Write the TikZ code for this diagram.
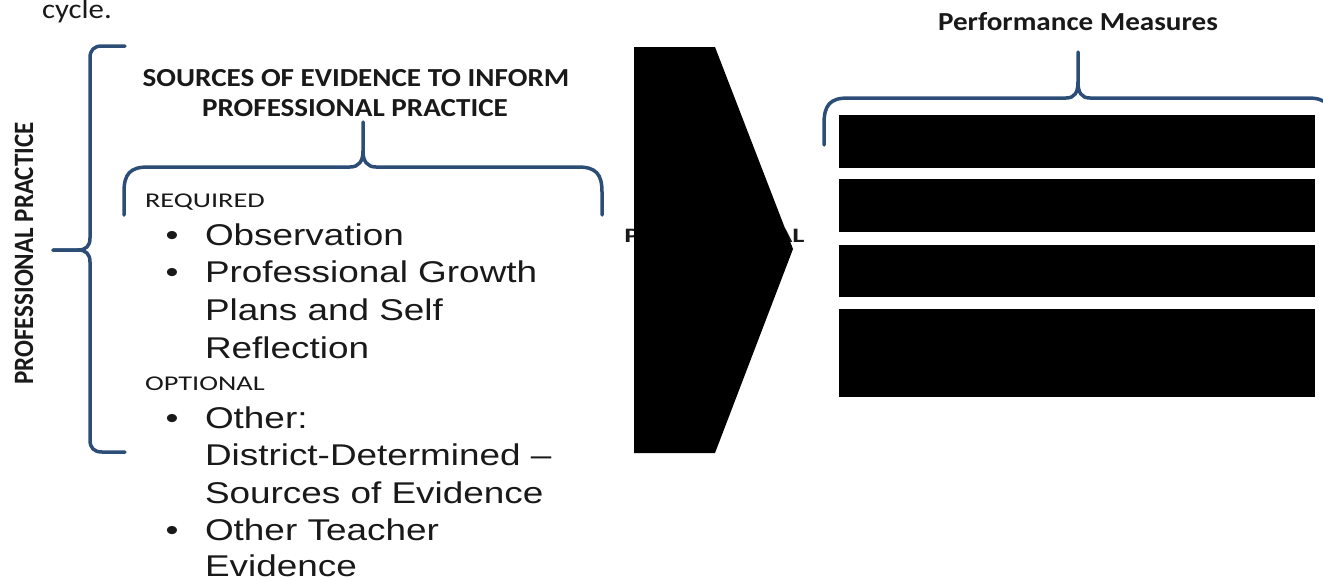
\documentclass[tikz,border=0pt]{standalone}
\usepackage{fontspec}
\newfontfamily\calhead[FakeStretch=1.12]{Carlito}
\newfontfamily\caltag[FakeStretch=1.35]{Carlito}
\newfontfamily\calchev[FakeStretch=1.4]{Carlito}
\newfontfamily\arifont[FakeStretch=1.23]{Liberation Sans}
\newfontfamily\calplain{Carlito}
\definecolor{bracecol}{RGB}{44,78,118}
\definecolor{inkcol}{RGB}{25,25,25}
\begin{document}
\begin{tikzpicture}[x=1pt,y=-1pt,
  brace/.style={draw=bracecol, line width=3.5pt, line cap=round, line join=round},
  txt/.style={inner sep=0pt, outer sep=0pt, text=inkcol},
  head/.style={txt, font=\calhead\bfseries\fontsize{26}{31}\selectfont, anchor=base},
  tag/.style={txt, font=\caltag\fontsize{21}{26}\selectfont, anchor=base west},
  item/.style={txt, font=\arifont\fontsize{30}{37}\selectfont, anchor=base west},
  dot/.style={txt, font=\arifont\fontsize{30}{37}\selectfont, anchor=base},
  bar/.style={fill=black, inner sep=0pt, outer sep=0pt, minimum width=476pt},
]
\useasboundingbox (0,0) rectangle (1323,581);

% running text cut off at the top
\node[txt, font=\calhead\fontsize{27.5}{30}\selectfont, anchor=base west] (cycle) at (42,18) {cycle.};

% side label
\node[txt, rotate=90] (side) at (24,253.5)
  {\scalebox{1}[1.12]{\calplain\bfseries\fontsize{25}{30}\selectfont PROFESSIONAL PRACTICE}};

% large left brace
\draw[brace] (125,46) -- (102,46) .. controls (94,46) and (90,50) .. (90,58)
  -- (90,238) .. controls (90,246) and (86,250) .. (78,250) -- (53,250);
\draw[brace] (53,250) -- (78,250) .. controls (86,250) and (90,254) .. (90,262)
  -- (90,440) .. controls (90,448) and (94,452) .. (102,452) -- (125,452);

% heading over the evidence list
\node[head] (h1) at (356,86) {SOURCES OF EVIDENCE TO INFORM};
\node[head] (h2) at (355,116) {PROFESSIONAL PRACTICE};

% brace under the heading
\draw[brace] (124,215) -- (124,192) .. controls (124,174) and (130,167) .. (148,167)
  -- (350,167) .. controls (359,167) and (363,161) .. (363,151) -- (363,122);
\draw[brace] (602,215) -- (602,192) .. controls (602,174) and (596,167) .. (578,167)
  -- (376,167) .. controls (367,167) and (363,161) .. (363,151);

% evidence list
\node[tag] (req) at (145,207) {REQUIRED};
\node[dot] (b1) at (172,245) {\textbullet};
\node[item] (i1) at (205,245) {Observation};
\node[dot] (b2) at (172,282) {\textbullet};
\node[item] (i2) at (205,282) {Professional Growth};
\node[item] (i2b) at (205,320) {Plans and Self};
\node[item] (i2c) at (205,358) {Reflection};
\node[tag] (opt) at (145,390) {OPTIONAL};
\node[dot] (b3) at (172,428) {\textbullet};
\node[item] (i3) at (205,428) {Other:};
\node[item] (i3b) at (205,465) {District-Determined –};
\node[item] (i3c) at (205,503) {Sources of Evidence};
\node[dot] (b4) at (172,540) {\textbullet};
\node[item] (i4) at (205,540) {Other Teacher};
\node[item] (i4b) at (205,576) {Evidence};

% chevron with its label mostly covered
\node[txt, font=\calchev\bfseries\fontsize{20.5}{24}\selectfont, anchor=base] (chevlabel) at (714.5,242) {PROFESSIONAL};
\fill[black] (634,47) -- (715,47) -- (793,249) -- (715,453) -- (634,453) -- cycle;

% performance measures
\node[head] (pm) at (1078,30) {Performance Measures};
\draw[brace] (824,145) -- (824,124) .. controls (824,105) and (830,98) .. (848,98)
  -- (1066,98) .. controls (1075,98) and (1078,92) .. (1078,82) -- (1078,52);
\draw[brace] (1332,145) -- (1332,124) .. controls (1332,105) and (1326,98) .. (1308,98)
  -- (1090,98) .. controls (1081,98) and (1078,92) .. (1078,82);

\node[bar, minimum height=53pt] (m1) at (1077,141.5) {};
\node[bar, minimum height=53pt] (m2) at (1077,205.5) {};
\node[bar, minimum height=52pt] (m3) at (1077,271) {};
\node[bar, minimum height=88pt] (m4) at (1077,353) {};
\end{tikzpicture}
\end{document}
